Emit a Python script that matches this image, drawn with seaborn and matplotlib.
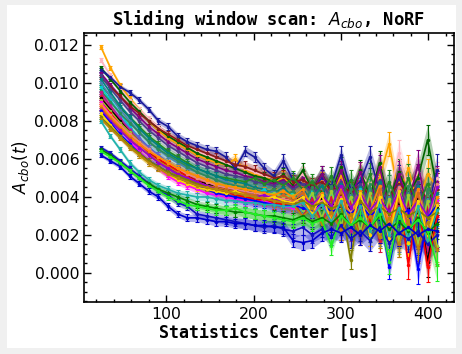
import matplotlib
matplotlib.use("Agg")
import matplotlib.pyplot as plt
import matplotlib.ticker as mtick
from matplotlib.patches import Rectangle
import numpy as np
import pandas as pd
import seaborn as sns

# window centers [us]
centers = [25, 36, 47, 58, 69, 80, 91, 102, 113, 124, 135, 146, 157, 168, 179, 190, 201, 212,
           223, 234, 245, 256, 267, 278, 289, 300, 311, 322, 333, 344, 355, 366, 377, 388, 399, 410]

# fitted A_cbo per window, in units of 1e-4 (one list per run, named by its colour)
orange = [119,108,99,92,86,80,75,71,68,65,62,60,58,57,60,54,52,51,48,50,46,50,44,49,42,51,40,53,38,50,68,41,55,36,52,45]
pink = [112,104,97,91,86,81,77,73,70,67,64,62,60,58,56,55,53,51,50,52,47,52,45,50,43,55,41,52,46,57,40,63,44,53,38,50]
darkgreen = [108,102,96,90,85,80,76,72,69,66,63,61,59,57,55,53,51,50,48,52,46,54,44,52,43,56,41,54,40,58,38,53,42,50,70,44]
navy = [107,103,98,95,91,86,80,77,72,69,67,65,64,61,55,64,61,55,51,59,49,47,44,50,46,62,44,48,61,43,36,50,40,46,34,54]
purple = [105,99,93,87,82,77,73,69,66,63,60,58,56,54,53,51,50,48,47,49,45,50,43,52,41,54,38,53,36,56,34,52,37,57,32,48]
darkred = [103,98,93,88,84,80,76,73,70,67,65,63,61,59,57,56,54,52,50,51,48,49,46,48,44,45,43,46,41,44,40,47,42,45,39,44]
indigo = [104,97,91,85,80,75,71,67,64,61,58,56,54,52,51,50,48,47,46,48,44,47,42,46,40,48,38,47,36,49,35,46,33,48,31,45]
forestgreen = [99,93,87,82,77,72,68,64,61,58,55,53,51,50,49,48,50,47,49,46,50,44,48,42,51,40,49,38,52,37,48,36,50,35,47,34]
teal = [102,95,88,82,76,71,67,63,60,57,55,53,51,49,48,47,45,44,42,45,40,44,38,46,30,47,26,45,22,48,24,44,20,46,18,42]
steelblue = [100,93,86,80,74,69,65,61,58,55,53,51,49,48,46,45,44,42,43,40,41,33,42,30,43,25,41,22,44,20,40,18,42,16,39,20]
cyan = [98,91,84,77,71,66,62,58,55,52,50,48,47,45,44,43,41,44,40,39,42,30,43,28,41,38,22,44,20,39,30,42,15,40,25,38]
seagreen = [96,90,84,79,74,69,65,62,59,56,53,51,49,47,46,45,44,42,44,41,43,36,45,30,46,28,44,25,47,22,45,20,46,18,44,22]
slateblue = [94,88,82,76,71,66,62,58,55,52,50,48,46,45,44,43,41,42,39,41,37,42,30,40,26,43,24,41,20,44,18,40,22,42,14,39]
mediumvioletred = [95,88,81,75,69,64,60,56,53,50,48,46,45,44,43,42,40,39,38,41,36,40,30,39,26,41,22,38,20,42,18,37,24,41,12,36]
crimson = [93,86,80,74,69,64,60,57,54,51,49,47,45,44,42,41,40,38,39,36,38,30,39,26,40,22,38,20,41,17,37,15,39,14,36,13]
black = [92,86,80,74,69,64,60,56,53,51,48,47,45,44,43,44,42,41,40,39,38,40,36,39,34,41,33,38,31,42,30,37,33,39,6,35]
yellowgreen = [91,85,79,74,69,65,61,58,55,52,50,48,47,46,45,44,43,41,42,40,41,33,42,29,43,25,40,22,42,19,39,17,41,15,38,14]
red = [90,84,78,73,68,64,60,57,54,51,48,46,44,43,41,40,39,38,37,36,35,37,33,36,31,38,30,34,28,40,26,44,4,38,3,30]
magenta = [90,83,76,70,64,59,55,51,48,46,44,42,41,40,39,38,37,38,36,35,34,37,30,38,26,40,24,41,22,43,20,40,23,44,18,38]
lightcoral = [89,83,78,73,69,65,61,58,55,52,50,48,46,45,44,43,42,41,40,39,38,37,36,38,34,39,32,40,30,42,28,45,27,43,25,47]
darkorange = [88,82,77,72,68,64,61,58,55,53,51,49,47,46,45,44,43,42,41,43,40,44,34,42,30,45,28,43,32,46,24,41,28,44,20,40]
chocolate = [87,81,76,71,66,62,59,56,53,50,48,46,45,44,43,42,41,40,39,41,38,42,32,41,28,43,26,40,22,44,20,39,25,42,18,37]
darkviolet = [86,80,75,70,66,62,58,55,52,50,48,46,44,43,42,41,40,41,39,38,37,40,36,41,35,46,34,42,33,39,32,43,31,38,30,45]
blue = [85,79,73,68,63,59,56,53,50,48,46,44,42,41,40,39,38,37,36,35,36,34,33,37,32,35,31,36,30,34,3,30,33,2,29,36]
gold = [84,78,72,67,62,58,55,52,49,47,45,44,43,42,43,41,40,39,40,38,37,40,31,41,27,39,24,42,20,40,18,43,16,38,20,36]
olive = [82,77,72,67,63,59,56,53,51,49,47,45,44,43,42,41,40,39,38,37,36,38,35,37,34,36,7,38,32,35,31,34,30,33,29,32]
darkgoldenrod = [81,76,71,66,62,58,55,52,50,48,46,45,44,43,42,41,40,39,38,37,36,30,34,26,32,22,31,20,30,19,29,15,28,13,27,12]
lightseagreen = [80,72,65,58,53,49,46,44,42,41,40,40,39,38,38,37,37,36,36,35,35,37,30,36,27,38,24,35,22,36,20,34,18,35,16,33]
mediumblue = [66,63,59,55,51,47,43,41,37,35,31,30,29,28,27,26,25,24,25,23,22,24,20,23,19,25,18,22,17,24,16,21,18,22,15,20]
green = [65,62,58,54,50,47,44,42,40,38,36,35,34,33,32,32,31,30,30,29,28,30,27,29,26,31,25,28,24,30,23,27,22,29,21,26]
lime = [64,61,58,54,50,46,43,40,38,36,35,34,33,33,34,32,31,30,29,28,27,29,26,28,14,30,25,29,24,31,6,30,23,28,22,4]
blue2 = [62,59,56,51,47,43,40,35,31,29,29,28,27,27,26,26,25,25,24,24,17,16,17,21,23,21,24,20,25,22,26,21,24,20,23,22]

# fit uncertainty per window, same units
errors = [1.0,1.1,1.2,1.3,1.4,1.5,1.6,1.7,1.8,1.9,2.0,2.1,2.3,2.4,2.5,2.7,2.8,3.0,3.2,3.4,
          3.6,3.8,4.0,4.3,4.5,4.8,5.1,5.4,5.7,6.0,6.4,6.8,7.2,7.6,8.0,8.4]

runs = [
    ("orange", orange, "#ffa500"), ("pink", pink, "#ffb6c1"), ("darkgreen", darkgreen, "#006400"),
    ("navy", navy, "#1a1a9c"), ("purple", purple, "#800080"), ("darkred", darkred, "#8b1a1a"),
    ("indigo", indigo, "#483d8b"), ("forestgreen", forestgreen, "#228b22"), ("teal", teal, "#008080"),
    ("steelblue", steelblue, "#4682b4"), ("cyan", cyan, "#00ced1"), ("seagreen", seagreen, "#2e8b57"),
    ("slateblue", slateblue, "#6a5acd"), ("mediumvioletred", mediumvioletred, "#c71585"),
    ("crimson", crimson, "#dc143c"), ("black", black, "#000000"), ("yellowgreen", yellowgreen, "#9acd32"),
    ("red", red, "#ff0000"), ("magenta", magenta, "#ff00ff"), ("lightcoral", lightcoral, "#f08080"),
    ("darkorange", darkorange, "#ff8c00"), ("chocolate", chocolate, "#d2691e"),
    ("darkviolet", darkviolet, "#9400d3"), ("blue", blue, "#0000ff"), ("gold", gold, "#ffd700"),
    ("olive", olive, "#808000"), ("darkgoldenrod", darkgoldenrod, "#b8860b"),
    ("lightseagreen", lightseagreen, "#20b2aa"), ("mediumblue", mediumblue, "#1010c0"),
    ("green", green, "#008000"), ("lime", lime, "#22ee22"), ("blue2", blue2, "#0000cd"),
]

sns.set_style("ticks")
plt.rcParams["font.family"] = ["DejaVu Sans"]
for key in ["text.color", "axes.labelcolor", "xtick.color", "ytick.color"]:
    plt.rcParams[key] = "black"

fig = plt.figure(figsize=(4.62, 3.54), dpi=100, facecolor="#f0f0f0")
# white canvas inside the grey border
fig.patches.append(Rectangle((7 / 462, 6 / 354), 449 / 462, 343 / 354,
                             transform=fig.transFigure, facecolor="white",
                             edgecolor="none", zorder=-1))
ax = fig.add_axes([84 / 462, 52 / 354, 370 / 462, 269 / 354])
ax.set_facecolor("white")

x = np.array(centers, dtype=float)
err = np.array(errors) * 1e-4

# long table for seaborn
rows = []
for name, vals, col in runs:
    for c, v in zip(centers, vals):
        rows.append({"center": c, "acbo": v * 1e-4, "run": name})
df = pd.DataFrame(rows)
palette = {name: col for name, vals, col in runs}

# bands and error bars
for name, vals, col in runs:
    y = np.array(vals) * 1e-4
    ax.fill_between(x, y - err, y + err, color=col, alpha=0.3, linewidth=0, zorder=1)
    ax.errorbar(x, y, yerr=err, fmt="none", ecolor=col, elinewidth=0.8,
                capsize=1.5, capthick=0.8, zorder=2)

sns.lineplot(data=df, x="center", y="acbo", hue="run", palette=palette,
             estimator=None, marker="o", markersize=2.5, markeredgewidth=0,
             linewidth=1.2, legend=False, ax=ax, zorder=3)

ax.set_xlim(5.75, 429.25)
ax.set_ylim(-0.00153, 0.01263)
ax.xaxis.set_major_locator(mtick.MultipleLocator(100))
ax.xaxis.set_minor_locator(mtick.MultipleLocator(20))
ax.yaxis.set_major_locator(mtick.MultipleLocator(0.002))
ax.yaxis.set_minor_locator(mtick.MultipleLocator(0.0005))
ax.yaxis.set_major_formatter(mtick.FormatStrFormatter("%.3f"))
ax.tick_params(which="both", direction="in", top=True, right=True, labelsize=11.3, width=1)
ax.tick_params(which="major", length=5)
ax.tick_params(which="minor", length=2.5)
for sp in ax.spines.values():
    sp.set_linewidth(1.2)
    sp.set_color("black")

ax.set_title("Sliding window scan: $A_{cbo}$, NoRF", fontfamily="DejaVu Sans Mono",
             fontweight="bold", fontsize=12.3, pad=6)
ax.set_xlabel("Statistics Center [us]", fontfamily="DejaVu Sans Mono",
              fontweight="bold", fontsize=12, labelpad=2)
ax.set_ylabel("$A_{cbo}(t)$", fontsize=12, labelpad=2)

fig.savefig("out.png", dpi=100, facecolor=fig.get_facecolor())
